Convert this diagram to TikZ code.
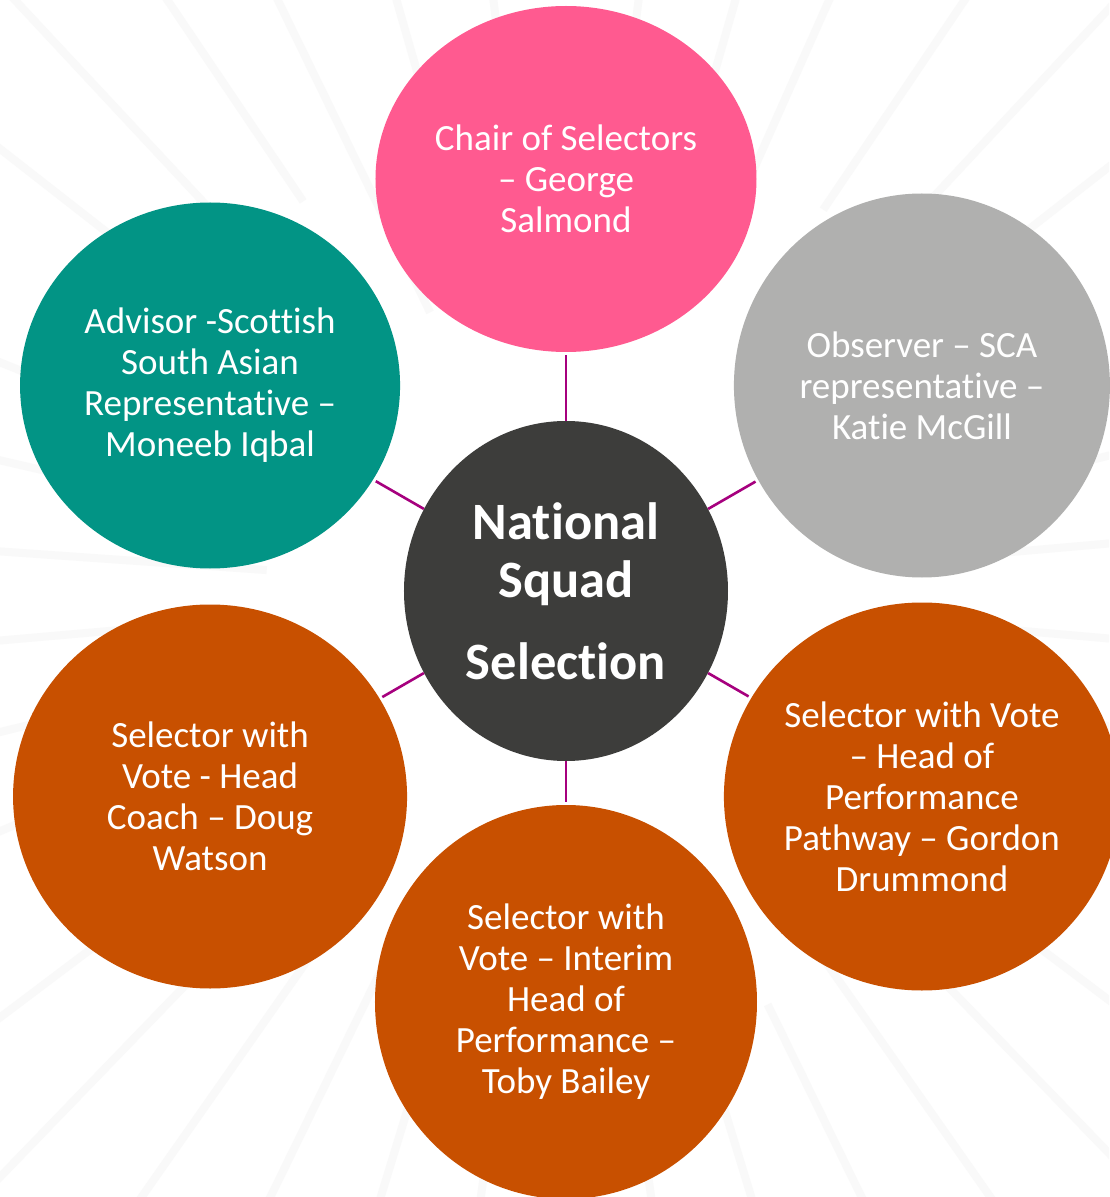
\documentclass[tikz,border=0pt]{standalone}
\usepackage{fontspec}
\setmainfont{Carlito}[Ligatures={NoCommon,NoContextual}, RawFeature={-calt}]
\usepackage{xcolor}
\usepackage{tikz}
\usetikzlibrary{shapes.geometric, calc}

\definecolor{chairpink}{HTML}{FF5A90}
\definecolor{advteal}{HTML}{029485}
\definecolor{obsgray}{HTML}{B0B0AF}
\definecolor{voteorange}{HTML}{C85000}
\definecolor{hubdark}{HTML}{3D3D3B}
\definecolor{spokepurple}{HTML}{A6007E}

\begin{document}
\begin{tikzpicture}[
    x=1pt, y=1pt,
    petal/.style={ellipse, inner sep=0pt, align=center, text=white,
        font=\fontsize{37}{41}\selectfont},
    hubnode/.style={ellipse, fill=hubdark, inner sep=0pt, align=center, text=white,
        minimum width=324pt, minimum height=340pt,
        font=\fontsize{52.5}{58}\selectfont\bfseries},
    spoke/.style={draw=spokepurple, line width=2.6pt, shorten >=3pt},
    ray/.style={draw=black!2.5, line width=8pt}
]

% Page and background
\fill[white] (-566,-606) rectangle (543,591);
\useasboundingbox (-566,-606) rectangle (543,591);
\coordinate (hub) at (0,0);

% Faint rays behind the circles
\begin{scope}
\clip (-566,-606) rectangle (543,591);
\foreach \a/\r in {5/420,14/360,22/300,38/400,47/330,56/460,66/380,74/300,
    83/440,97/350,106/430,116/310,124/470,133/360,142/420,158/330,
    167/450,176/300,185/410,194/340,203/470,217/380,226/320,235/440,
    244/360,253/480,262/330,278/400,287/350,296/460,305/310,314/420,
    323/370,337/440,346/330,355/390}
  \draw[ray] ($(hub)+(\a:\r)$) -- ($(hub)+(\a:1000)$);
\end{scope}

% Centre node
\node[hubnode] (nss) at (hub) {National\\Squad\\[24pt]Selection};

% Surrounding nodes
\node[petal, fill=chairpink, minimum width=381pt, minimum height=346pt]
    (chair) at (90:412) {Chair of Selectors\\\textendash{} George\\Salmond};
\node[petal, fill=obsgray, minimum width=376pt, minimum height=384pt]
    (obs) at (30:411) {Observer \textendash{} SCA\\representative \textendash\\Katie McGill};
\node[petal, fill=voteorange, minimum width=396pt, minimum height=388pt]
    (pathway) at (330:411) {Selector with Vote\\\textendash{} Head of\\Performance\\Pathway \textendash{} Gordon\\Drummond};
\node[petal, fill=voteorange, minimum width=382pt, minimum height=394pt]
    (interim) at (270:411) {Selector with\\Vote \textendash{} Interim\\Head of\\Performance \textendash\\Toby Bailey};
\node[petal, fill=voteorange, minimum width=394pt, minimum height=384pt]
    (coach) at (210:411) {Selector with\\Vote - Head\\Coach \textendash{} Doug\\Watson};
\node[petal, fill=advteal, minimum width=380pt, minimum height=366pt]
    (advisor) at (150:411) {Advisor -Scottish\\South Asian\\Representative \textendash\\Moneeb Iqbal};

% Spokes
\foreach \p in {chair, obs, pathway, interim, coach, advisor}
  \draw[spoke] (nss) -- (\p);

\end{tikzpicture}
\end{document}
